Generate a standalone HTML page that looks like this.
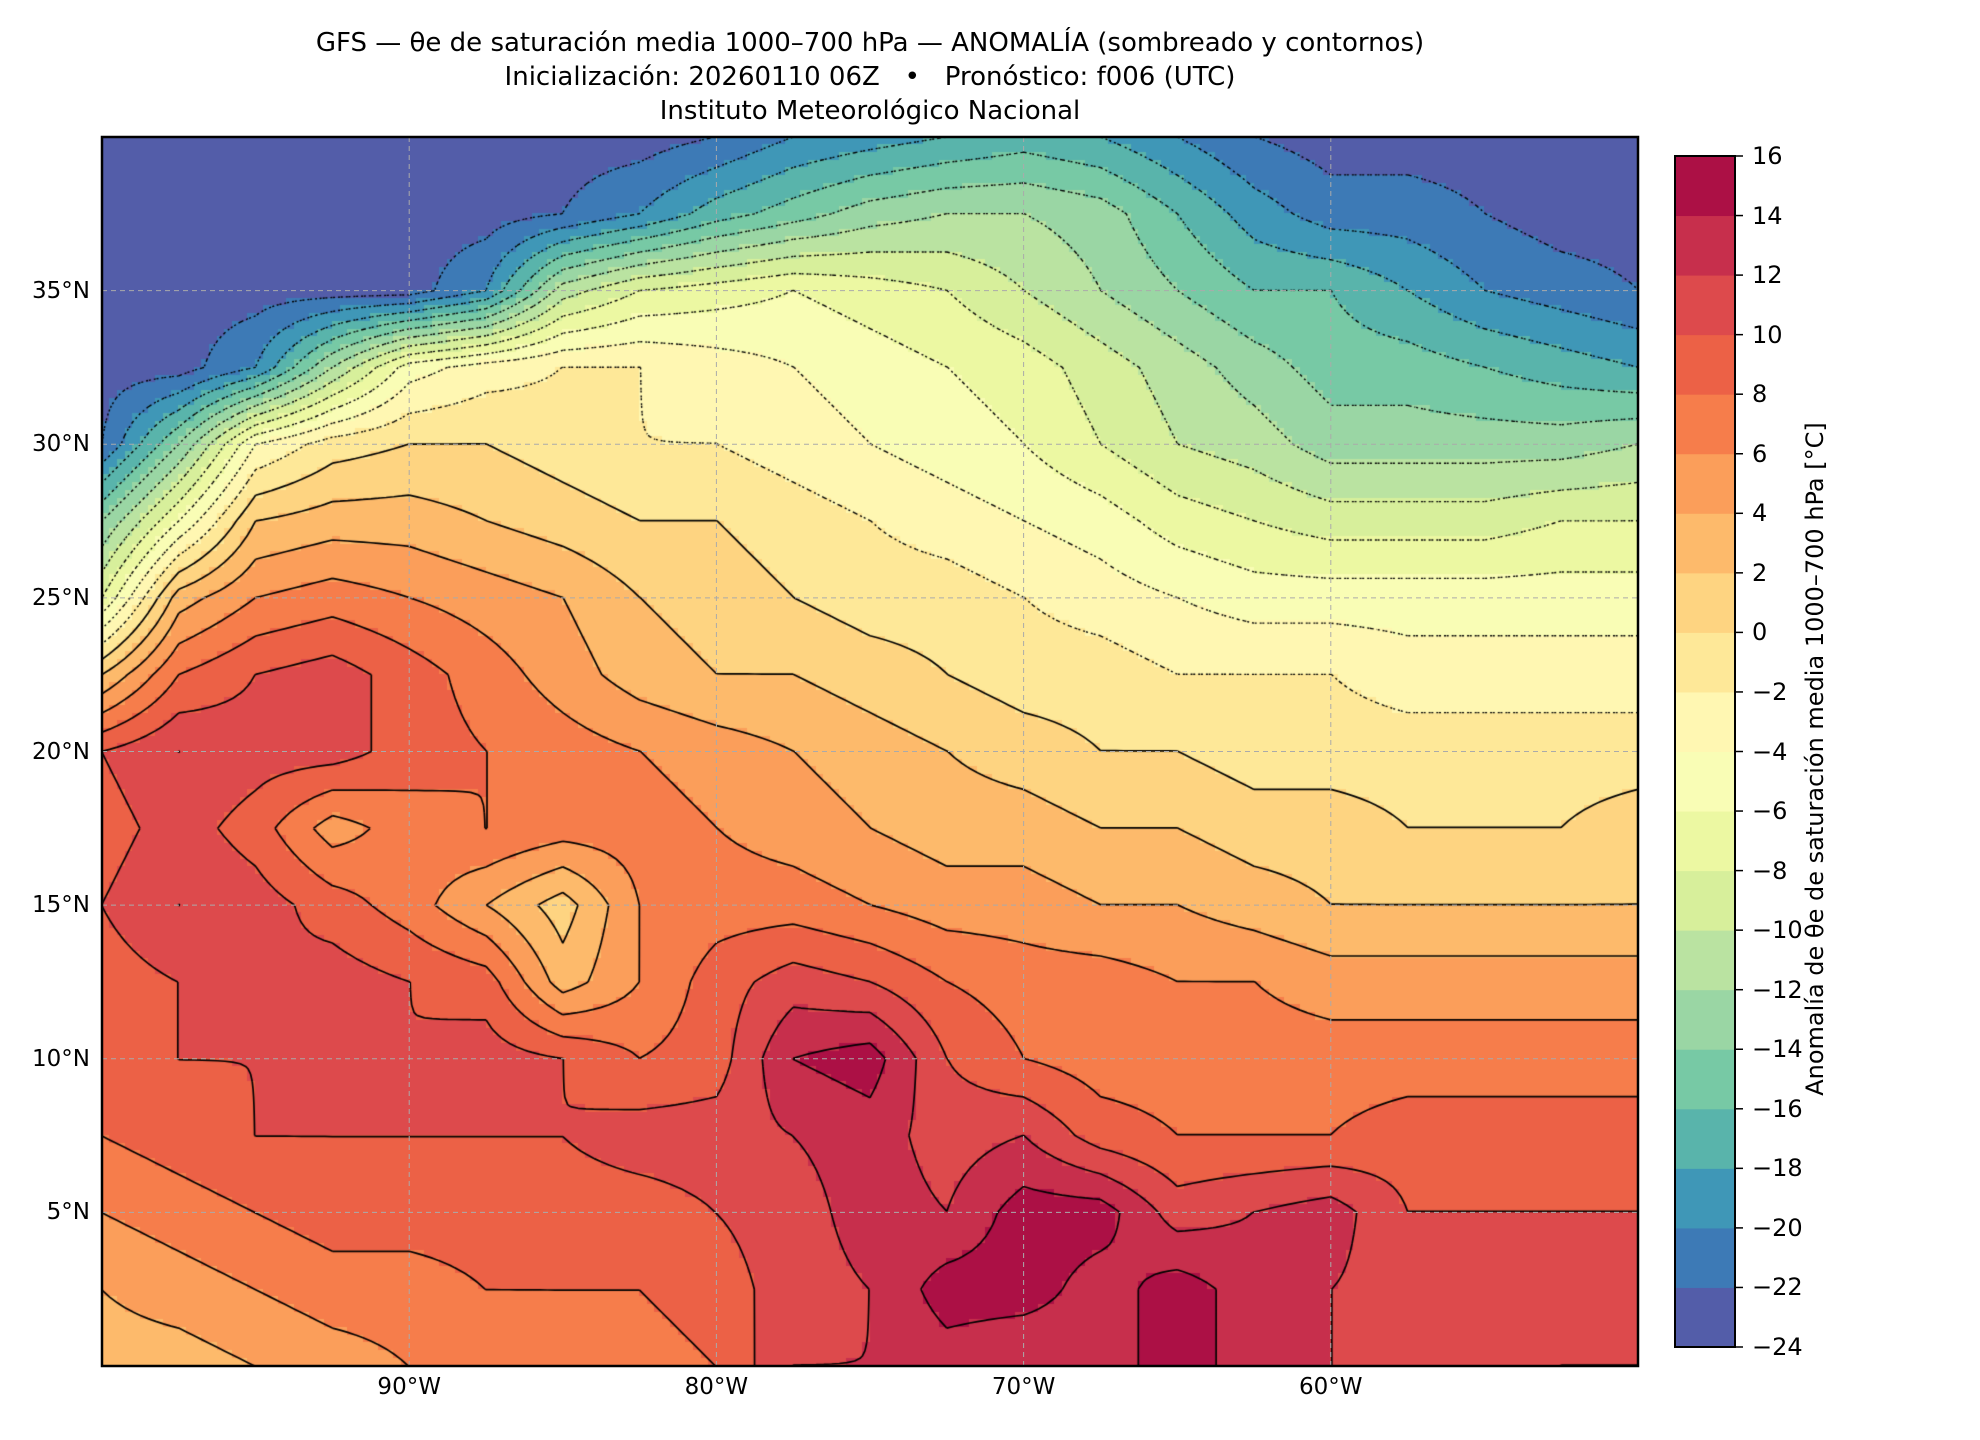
<!DOCTYPE html>
<html><head><meta charset="utf-8">
<style>
html,body{margin:0;padding:0;background:#fff;}
#wrap{position:relative;width:1980px;height:1440px;font-family:"DejaVu Sans","Liberation Sans",sans-serif;color:#000;}
.t{position:absolute;white-space:nowrap;}
#title{position:absolute;left:0;width:1740px;top:26px;text-align:center;font-size:26px;line-height:34px;}
canvas{position:absolute;}
.lat{position:absolute;right:1890px;font-size:23px;transform:translateY(-50%);}
.lon{position:absolute;top:1374px;font-size:23px;transform:translateX(-50%);}
.cbt{position:absolute;left:1752px;font-size:24px;transform:translateY(-50%);}
</style></head>
<body>
<div id="wrap">
<div id="title">GFS — θe de saturación media 1000–700 hPa — ANOMALÍA (sombreado y contornos)<br>Inicialización: 20260110 06Z &nbsp; • &nbsp; Pronóstico: f006 (UTC)<br>Instituto Meteorológico Nacional</div>
<canvas id="map" width="1536" height="1229" style="left:102px;top:137px;"></canvas>
<svg id="ov" width="1980" height="1440" style="position:absolute;left:0;top:0"></svg>
<div class="t" style="left:1815px;top:759px;transform:translate(-50%,-50%) rotate(-90deg);font-size:24px;">Anomalía de θe de saturación media 1000–700 hPa [°C]</div>
</div>
<script>
const lons=[-100,-97.5,-95,-92.5,-90,-87.5,-85,-82.5,-80,-77.5,-75,-72.5,-70,-67.5,-65,-62.5,-60,-57.5,-55,-52.5,-50];
const lats=[40,37.5,35,32.5,30,27.5,25,22.5,20,17.5,15,12.5,10,7.5,5,2.5,0];
const anomaly=[
[-23,-23,-23,-23,-23,-23,-23,-23,-22,-20,-19,-18,-17,-18,-20,-22,-23,-23,-23,-23,-23],
[-23,-23,-23,-23,-23,-23,-22,-20,-17,-15,-13,-12,-12,-13,-16,-19,-21,-21,-22,-23,-23],
[-23,-23,-23,-23,-23,-20,-11,-8,-7,-6,-7,-8,-10,-12,-14,-16,-16,-18,-20,-21,-22],
[-23,-23,-20,-12,-5,-3,-2,-2,-3,-4,-5,-6,-7,-9,-11,-13,-15,-15,-16,-17,-18],
[-22,-14,-4,-1,0,0,-1,-2,-2,-3,-4,-5,-6,-8,-10,-11,-13,-13,-13,-13,-12],
[-14,-6,2,3,3,2,1,0,0,-1,-2,-3,-4,-5,-7,-8,-9,-9,-9,-8,-8],
[-8,3,6,7,6,5,4,2,1,0,-1,-1,-2,-3,-4,-5,-5,-5,-5,-5,-5],
[2,8,10,11,9,7,5,3,2,2,1,0,-1,-1,-2,-2,-2,-3,-3,-3,-3],
[10,12,11,11,9,8,7,6,5,4,3,2,1,0,0,-1,-1,-1,-1,-1,-1],
[9,11,9,5,7,8,7,7,6,5,4,3,3,2,2,1,1,0,0,0,1],
[10,12,11,9,7,4,1,6,7,7,6,5,5,4,4,3,2,2,2,2,2],
[9,10,10,11,10,9,3,6,9,11,10,8,7,7,6,6,5,5,5,5,5],
[9,10,10,10,10,11,10,8,9,14,15,10,8,7,7,7,7,7,7,7,7],
[8,9,10,10,10,10,10,11,11,12,13,11,12,9,8,8,8,9,9,9,9],
[6,7,8,9,9,9,9,9,10,11,13,12,15,15,11,12,13,10,10,10,10],
[4,5,6,7,7,8,8,8,9,11,12,15,15,13,15,13,12,11,10,11,11],
[3,3,4,5,6,6,7,7,8,12,12,13,12,13,15,13,12,11,11,12,12]];
const levels=[-24,-22,-20,-18,-16,-14,-12,-10,-8,-6,-4,-2,0,2,4,6,8,10,12,14,16];
const tickLatLabels=["5°N","10°N","15°N","20°N","25°N","30°N","35°N"];
const tickLatValues=[5,10,15,20,25,30,35];
const tickLonLabels=["90°W","80°W","70°W","60°W"];
const tickLonValues=[-90,-80,-70,-60];

const PL=102,PT=137,PW=1536,PH=1229,LON0=-100,LON1=-50,LAT0=0,LAT1=40;
function xOf(lon){return PL+(lon-LON0)/(LON1-LON0)*PW;}
function yOf(lat){return PT+(LAT1-lat)/(LAT1-LAT0)*PH;}
const spec=["#9e0142","#d53e4f","#f46d43","#fdae61","#fee08b","#ffffbf","#e6f598","#abdda4","#66c2a5","#3288bd","#5e4fa2"];
function hex(h){return[parseInt(h.substr(1,2),16),parseInt(h.substr(3,2),16),parseInt(h.substr(5,2),16)];}
function spectral(t){const p=t*10,i=Math.min(9,Math.floor(p)),f=p-i;const a=hex(spec[i]),b=hex(spec[i+1]);return 'rgb('+a.map((v,k)=>Math.round(v+(b[k]-v)*f)).join(',')+')';}
const nb=levels.length-1;
const bandColors=[];for(let i=0;i<nb;i++){bandColors.push(spectral(1-(2*i+1)/(2*nb)));}
function bandOf(v){let i=Math.floor((v+0.013-levels[0])/(levels[1]-levels[0]));return Math.max(0,Math.min(nb-1,i));}
function valAt(lon,lat){
  let fx=(lon-lons[0])/(lons[1]-lons[0]);let fy=(lats[0]-lat)/(lats[0]-lats[1]);
  fx=Math.max(0,Math.min(lons.length-1.0001,fx));fy=Math.max(0,Math.min(lats.length-1.0001,fy));
  const i=Math.floor(fx),j=Math.floor(fy),a=fx-i,b=fy-j;
  const v00=anomaly[j][i],v01=anomaly[j][i+1],v10=anomaly[j+1][i],v11=anomaly[j+1][i+1];
  return (v00*(1-a)+v01*a)*(1-b)+(v10*(1-a)+v11*a)*b;
}
const step=0.25;
const NX=Math.round((LON1-LON0)/step),NY=Math.round((LAT1-LAT0)/step);
const ctx=document.getElementById('map').getContext('2d');
for(let j=0;j<NY;j++){for(let i=0;i<NX;i++){
  const lon=LON0+(i+0.5)*step,lat=LAT1-(j+0.5)*step;
  ctx.fillStyle=bandColors[bandOf(valAt(lon,lat))];
  const x0=Math.floor(xOf(LON0+i*step)-PL),x1=Math.ceil(xOf(LON0+(i+1)*step)-PL);
  const y0=Math.floor(yOf(LAT1-j*step)-PT),y1=Math.ceil(yOf(LAT1-(j+1)*step)-PT);
  ctx.fillRect(x0,y0,x1-x0,y1-y0);
}}
const G=[];for(let j=0;j<=NY;j++){G.push([]);for(let i=0;i<=NX;i++)G[j].push(valAt(LON0+i*step,LAT1-j*step));}
function px(i){return xOf(LON0+i*step)-PL;}function py(j){return yOf(LAT1-j*step)-PT;}
ctx.strokeStyle='#000';
for(const L0 of levels.slice(1,-1)){
  const L=L0-0.013;
  ctx.lineWidth=L0<0?1.4:1.7;ctx.setLineDash(L0<0?[2,3]:[]);ctx.beginPath();
  for(let j=0;j<NY;j++)for(let i=0;i<NX;i++){
    const c=[[i,j,G[j][i]],[i+1,j,G[j][i+1]],[i+1,j+1,G[j+1][i+1]],[i,j+1,G[j+1][i]]];
    const pts=[];
    for(let k=0;k<4;k++){const p=c[k],q=c[(k+1)%4];
      if((p[2]<L)!==(q[2]<L)){const f=(L-p[2])/(q[2]-p[2]);pts.push([px(p[0]+(q[0]-p[0])*f),py(p[1]+(q[1]-p[1])*f)]);}}
    for(let k=0;k+1<pts.length;k+=2){ctx.moveTo(pts[k][0],pts[k][1]);ctx.lineTo(pts[k+1][0],pts[k+1][1]);}
  }
  ctx.stroke();
}
ctx.setLineDash([]);
const NS='http://www.w3.org/2000/svg',ov=document.getElementById('ov');
function el(tag,attrs){const e=document.createElementNS(NS,tag);for(const k in attrs)e.setAttribute(k,attrs[k]);ov.appendChild(e);return e;}
tickLonValues.forEach((v,k)=>{
  const g=el('line',{x1:xOf(v),x2:xOf(v),y1:PT,y2:PT+PH,stroke:'#aaa','stroke-width':1,'stroke-dasharray':'5,4'});
  
  
  const d=document.createElement('div');d.className='lon';d.style.left=xOf(v)+'px';d.textContent=tickLonLabels[k];
  
  
  document.getElementById('wrap').appendChild(d);
});
tickLatValues.forEach((v,k)=>{
  const g=el('line',{x1:PL,x2:PL+PW,y1:yOf(v),y2:yOf(v),stroke:'#aaa','stroke-width':1,'stroke-dasharray':'5,4'});
  
  
  const d=document.createElement('div');d.className='lat';d.style.top=yOf(v)+'px';d.textContent=tickLatLabels[k];
  
  
  document.getElementById('wrap').appendChild(d);
});
const fr=el('rect',{x:PL,y:PT,width:PW,height:PH,fill:'none',stroke:'#000','stroke-width':2.5});


const CL=1675,CR=1735,CT=156,CB=1347;
function cbY(v){return CB-(v-levels[0])/(levels[nb]-levels[0])*(CB-CT);}
for(let i=0;i<nb;i++){
  const r=el('rect',{x:CL,y:cbY(levels[i+1]),width:CR-CL,height:cbY(levels[i])-cbY(levels[i+1])+0.5,fill:bandColors[i]});
  
  
}
const cf=el('rect',{x:CL,y:CT,width:CR-CL,height:CB-CT,fill:'none',stroke:'#000','stroke-width':2});


levels.forEach(v=>{
  const t=el('line',{x1:CR,x2:CR+8,y1:cbY(v),y2:cbY(v),stroke:'#000','stroke-width':1.5});
  
  
  const d=document.createElement('div');d.className='cbt';d.style.top=cbY(v)+'px';d.textContent=(v<0?'−'+(-v):''+v);
  
  
  document.getElementById('wrap').appendChild(d);
});
</script>
</body></html>
